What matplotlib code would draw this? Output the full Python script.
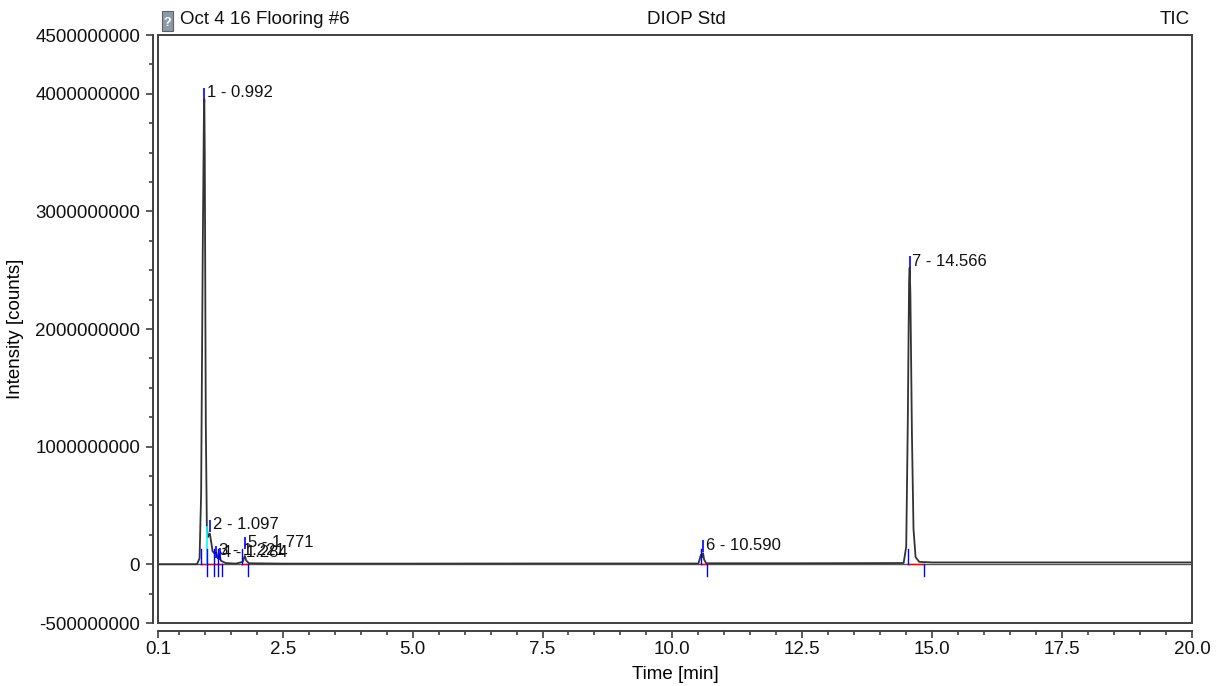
import matplotlib
matplotlib.use("Agg")
import matplotlib.pyplot as plt
from matplotlib.patches import Rectangle
from matplotlib.ticker import MultipleLocator, FixedLocator, FixedFormatter
import matplotlib.transforms as mtransforms
import numpy as np

plt.rcParams['font.family'] = ['Liberation Sans', 'DejaVu Sans']
FS = 13.5
FS_PEAK = 12

# chromatogram trace (time [min], intensity [counts])
trace_t = [0.10, 0.85, 0.90, 0.93, 0.96, 0.985, 0.992, 1.00, 1.02, 1.04, 1.06, 1.08,
           1.097, 1.12, 1.15, 1.19, 1.221, 1.25, 1.284, 1.31, 1.40, 1.60, 1.73, 1.771,
           1.80, 1.85, 2.5, 5.0, 7.5, 10.50, 10.55, 10.57, 10.590, 10.61, 10.65, 12.5,
           14.45, 14.50, 14.53, 14.555, 14.566, 14.58, 14.61, 14.64, 14.68, 14.75, 15.0,
           17.5, 20.0]
trace_i = [0, 0, 5e7, 6e8, 2.6e9, 3.9e9, 3.95e9, 3.5e9, 1.2e9, 3.2e8, 2.3e8, 2.5e8,
           2.6e8, 2.0e8, 1.1e8, 9e7, 1.0e8, 5e7, 8e7, 3e7, 1e7, 5e6, 2e7, 7e7,
           3e7, 8e6, 5e6, 5e6, 6e6, 6e6, 8e7, 6e7, 9.4e7, 4e7, 8e6, 8e6,
           1e7, 1.5e8, 1.2e9, 2.4e9, 2.52e9, 2.3e9, 1.1e9, 3e8, 6e7, 2e7, 1.5e7,
           1.5e7, 1.5e7]

# peak table (label heights as placed in the picture)
peak_no = [1, 2, 3, 4, 5, 6, 7]
peak_rt = [0.992, 1.097, 1.221, 1.284, 1.771, 10.590, 14.566]
label_h = [3.92e9, 2.5e8, 3.0e7, 1.2e7, 1.0e8, 7.5e7, 2.49e9]
peak_start = [0.92, 1.04, 1.17, 1.25, 1.72, 10.56, 14.53]
peak_end = [1.04, 1.17, 1.25, 1.33, 1.83, 10.66, 14.84]
drop_lines = [1.04]

x_ticks = [0.1, 2.5, 5.0, 7.5, 10.0, 12.5, 15.0, 17.5, 20.0]
y_ticks = [-5e8, 0, 1e9, 2e9, 3e9, 4e9, 4.5e9]
y_labels = ['-500000000', '0', '1000000000', '2000000000', '3000000000',
            '4000000000', '4500000000']

fig = plt.figure(figsize=(12.18, 6.86), dpi=100)
ax = fig.add_axes([158 / 1218, 1 - 623 / 686, 1034 / 1218, 588 / 686])
ax.set_xlim(0.1, 20.0)
ax.set_ylim(-5e8, 4.5e9)

# baseline and trace
ax.axhline(0, color='#555555', lw=1.0, zorder=1)
ax.plot(trace_t, trace_i, color='#333333', lw=1.3, zorder=3)

# integration marks
for s, e in zip(peak_start, peak_end):
    ax.plot([s, e], [0, 0], color='red', lw=1.0, zorder=4)
    ax.plot([s, s], [0, 1.3e8], color='blue', lw=1.0, zorder=5)
    ax.plot([e, e], [0, -1.0e8], color='blue', lw=1.0, zorder=5)
for d in drop_lines:
    ax.plot([d, d], [0, np.interp(d, trace_t, trace_i)], color='cyan', lw=1.2, zorder=4)

# peak labels
tick_tr = mtransforms.offset_copy(ax.transData, fig=fig, x=0, y=9, units='dots')
for n, rt, h in zip(peak_no, peak_rt, label_h):
    ax.plot([rt], [h], marker='|', color='blue', markersize=9, mew=1.2,
            transform=tick_tr, zorder=6)
    ax.annotate('%d - %.3f' % (n, rt), xy=(rt, h), xytext=(2, 2),
                textcoords='offset points', ha='left', va='bottom',
                fontsize=FS_PEAK, color='#111111', zorder=6)

# frame and detached axes
ax.add_patch(Rectangle((0, 0), 1, 1, transform=ax.transAxes, fill=False,
                       edgecolor='#404040', lw=1.4, zorder=10, clip_on=False))
for side in ['top', 'right']:
    ax.spines[side].set_visible(False)
ax.spines['left'].set_position(('outward', 3.8))
ax.spines['bottom'].set_position(('outward', 5.8))
for side in ['left', 'bottom']:
    ax.spines[side].set_color('#404040')
    ax.spines[side].set_linewidth(1.4)

ax.xaxis.set_major_locator(FixedLocator(x_ticks))
ax.xaxis.set_major_formatter(FixedFormatter(['%.1f' % v for v in x_ticks]))
ax.xaxis.set_minor_locator(MultipleLocator(0.5))
ax.yaxis.set_major_locator(FixedLocator(y_ticks))
ax.yaxis.set_major_formatter(FixedFormatter(y_labels))
ax.yaxis.set_minor_locator(MultipleLocator(2.5e8))
ax.tick_params(which='major', length=5, width=1.2, color='#404040',
               labelsize=FS, labelcolor='#111111')
ax.tick_params(axis='x', which='major', pad=2)
ax.tick_params(axis='y', which='major', pad=4)
ax.tick_params(which='minor', length=3, width=1.2, color='#404040')

ax.set_xlabel('Time [min]', fontsize=FS, labelpad=6)
ax.set_ylabel('Intensity [counts]', fontsize=FS, labelpad=8)

# header
fig.patches.append(Rectangle((162 / 1218, 1 - 31 / 686), 11 / 1218, 20 / 686,
                             transform=fig.transFigure, facecolor='#8a9aa8',
                             edgecolor='#606060', lw=0.8))
fig.text(167.5 / 1218, 1 - 23 / 686, '?', fontsize=9, color='white',
         ha='center', va='center', fontweight='bold')
fig.text(180 / 1218, 1 - 20 / 686, 'Oct 4 16 Flooring #6', fontsize=FS,
         ha='left', va='center', color='#111111')
fig.text(686 / 1218, 1 - 20 / 686, 'DIOP Std', fontsize=FS,
         ha='center', va='center', color='#111111')
fig.text(1190 / 1218, 1 - 20 / 686, 'TIC', fontsize=FS,
         ha='right', va='center', color='#111111')

fig.savefig('out.png', dpi=100)
